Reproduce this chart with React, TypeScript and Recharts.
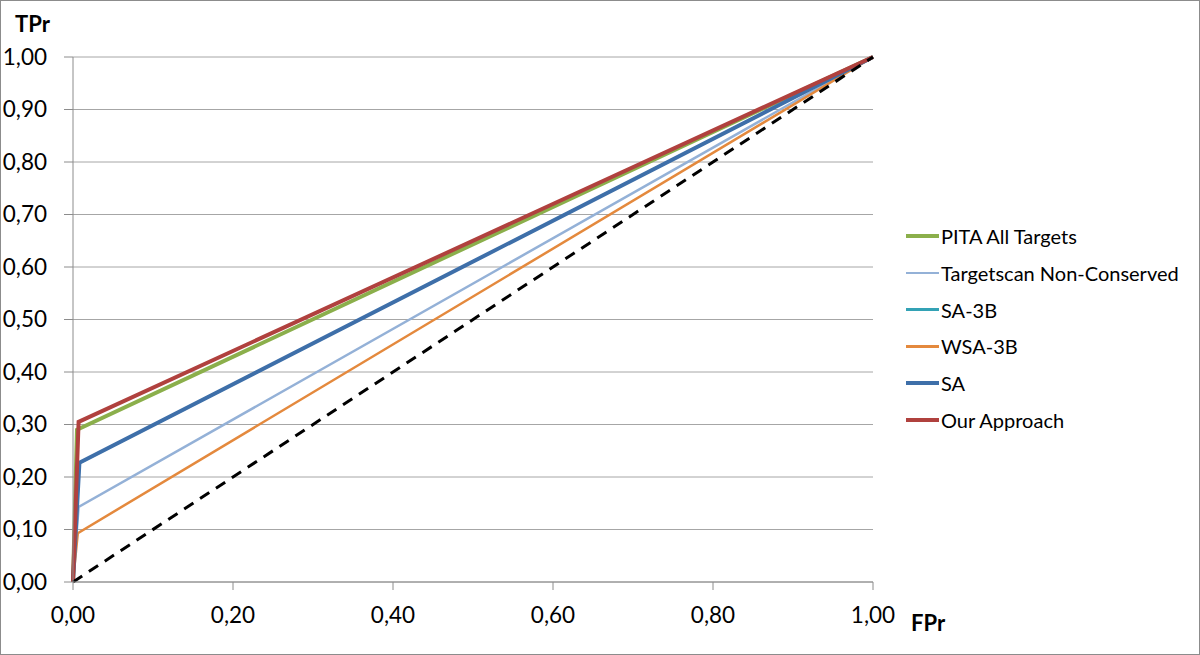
import { LineChart, Line, XAxis, YAxis, CartesianGrid } from 'recharts';

// ROC points: (0,0) -> operating point -> (1,1)
const seriesNames = ['PITA All Targets', 'Targetscan Non-Conserved', 'SA-3B', 'WSA-3B', 'SA', 'Our Approach'];
const pitaFpr = [0, 0.005, 1];
const pitaTpr = [0, 0.29, 1];
const targetscanFpr = [0, 0.007, 1];
const targetscanTpr = [0, 0.143, 1];
const sa3bFpr = [0, 0.008, 1];
const sa3bTpr = [0, 0.227, 1];
const wsa3bFpr = [0, 0.006, 1];
const wsa3bTpr = [0, 0.093, 1];
const saFpr = [0, 0.008, 1];
const saTpr = [0, 0.227, 1];
const ourFpr = [0, 0.007, 1];
const ourTpr = [0, 0.305, 1];
const randomFpr = [0, 1];
const randomTpr = [0, 1];

const xTicks = [0, 0.2, 0.4, 0.6, 0.8, 1];
const yTicks = [0, 0.1, 0.2, 0.3, 0.4, 0.5, 0.6, 0.7, 0.8, 0.9, 1];

const toPoints = (xs: number[], ys: number[]) => xs.map((x, i) => ({ x, y: ys[i] }));

const series = [
  { name: seriesNames[0], data: toPoints(pitaFpr, pitaTpr), color: '#8BAF4B', width: 4 },
  { name: seriesNames[1], data: toPoints(targetscanFpr, targetscanTpr), color: '#94B1D7', width: 2.5 },
  { name: seriesNames[2], data: toPoints(sa3bFpr, sa3bTpr), color: '#33A2B5', width: 2.5 },
  { name: seriesNames[3], data: toPoints(wsa3bFpr, wsa3bTpr), color: '#E4893D', width: 2.5 },
  { name: seriesNames[4], data: toPoints(saFpr, saTpr), color: '#3E6FA9', width: 4 },
  { name: seriesNames[5], data: toPoints(ourFpr, ourTpr), color: '#B0413E', width: 4 },
];

const fmt = (v: number) => v.toFixed(2).replace('.', ',');
const FONT = 'Lato, "Liberation Sans", sans-serif';

export default function App() {
  return (
    <div style={{ position: 'absolute', left: 0, top: 0, width: 1200, height: 655, background: '#fff', fontFamily: FONT }}>
      <LineChart width={1200} height={655} margin={{ top: 57, right: 327, bottom: 0, left: 0 }}>
        <CartesianGrid vertical={false} stroke="#A6A6A6" />
        <XAxis
          type="number"
          dataKey="x"
          domain={[0, 1]}
          ticks={xTicks}
          tickFormatter={fmt}
          height={73}
          stroke="#8C8C8C"
          tickSize={8}
          tickMargin={17}
          tick={{ fill: '#000', fontSize: 22.5, fontFamily: FONT }}
        />
        <YAxis
          type="number"
          dataKey="y"
          domain={[0, 1]}
          ticks={yTicks}
          tickFormatter={fmt}
          width={73}
          stroke="#8C8C8C"
          tickSize={9}
          tickMargin={17}
          tick={{ fill: '#000', fontSize: 22.5, fontFamily: FONT }}
        />
        {series.map((s) => (
          <Line
            key={s.name}
            data={s.data}
            dataKey="y"
            name={s.name}
            type="linear"
            stroke={s.color}
            strokeWidth={s.width}
            dot={false}
            activeDot={false}
            isAnimationActive={false}
          />
        ))}
        <Line
          data={toPoints(randomFpr, randomTpr)}
          dataKey="y"
          name="Random"
          type="linear"
          stroke="#000"
          strokeWidth={3}
          strokeDasharray="11 8"
          dot={false}
          activeDot={false}
          isAnimationActive={false}
        />
      </LineChart>

      {/* axis titles */}
      <div style={{ position: 'absolute', left: 15, top: 10, fontSize: 22, fontWeight: 700 }}>TPr</div>
      <div style={{ position: 'absolute', left: 911, top: 609, fontSize: 22, fontWeight: 700 }}>FPr</div>

      {/* legend */}
      <div style={{ position: 'absolute', left: 906, top: 218 }}>
        {series.map((s) => (
          <div key={s.name} style={{ display: 'flex', alignItems: 'center', height: 36.7 }}>
            <div style={{ width: 33, height: s.width, background: s.color, marginRight: 2 }} />
            <span style={{ fontSize: 20, color: '#000' }}>{s.name}</span>
          </div>
        ))}
      </div>

      <div style={{ position: 'absolute', inset: 0, border: '1px solid #8C8C8C', pointerEvents: 'none' }} />
    </div>
  );
}
